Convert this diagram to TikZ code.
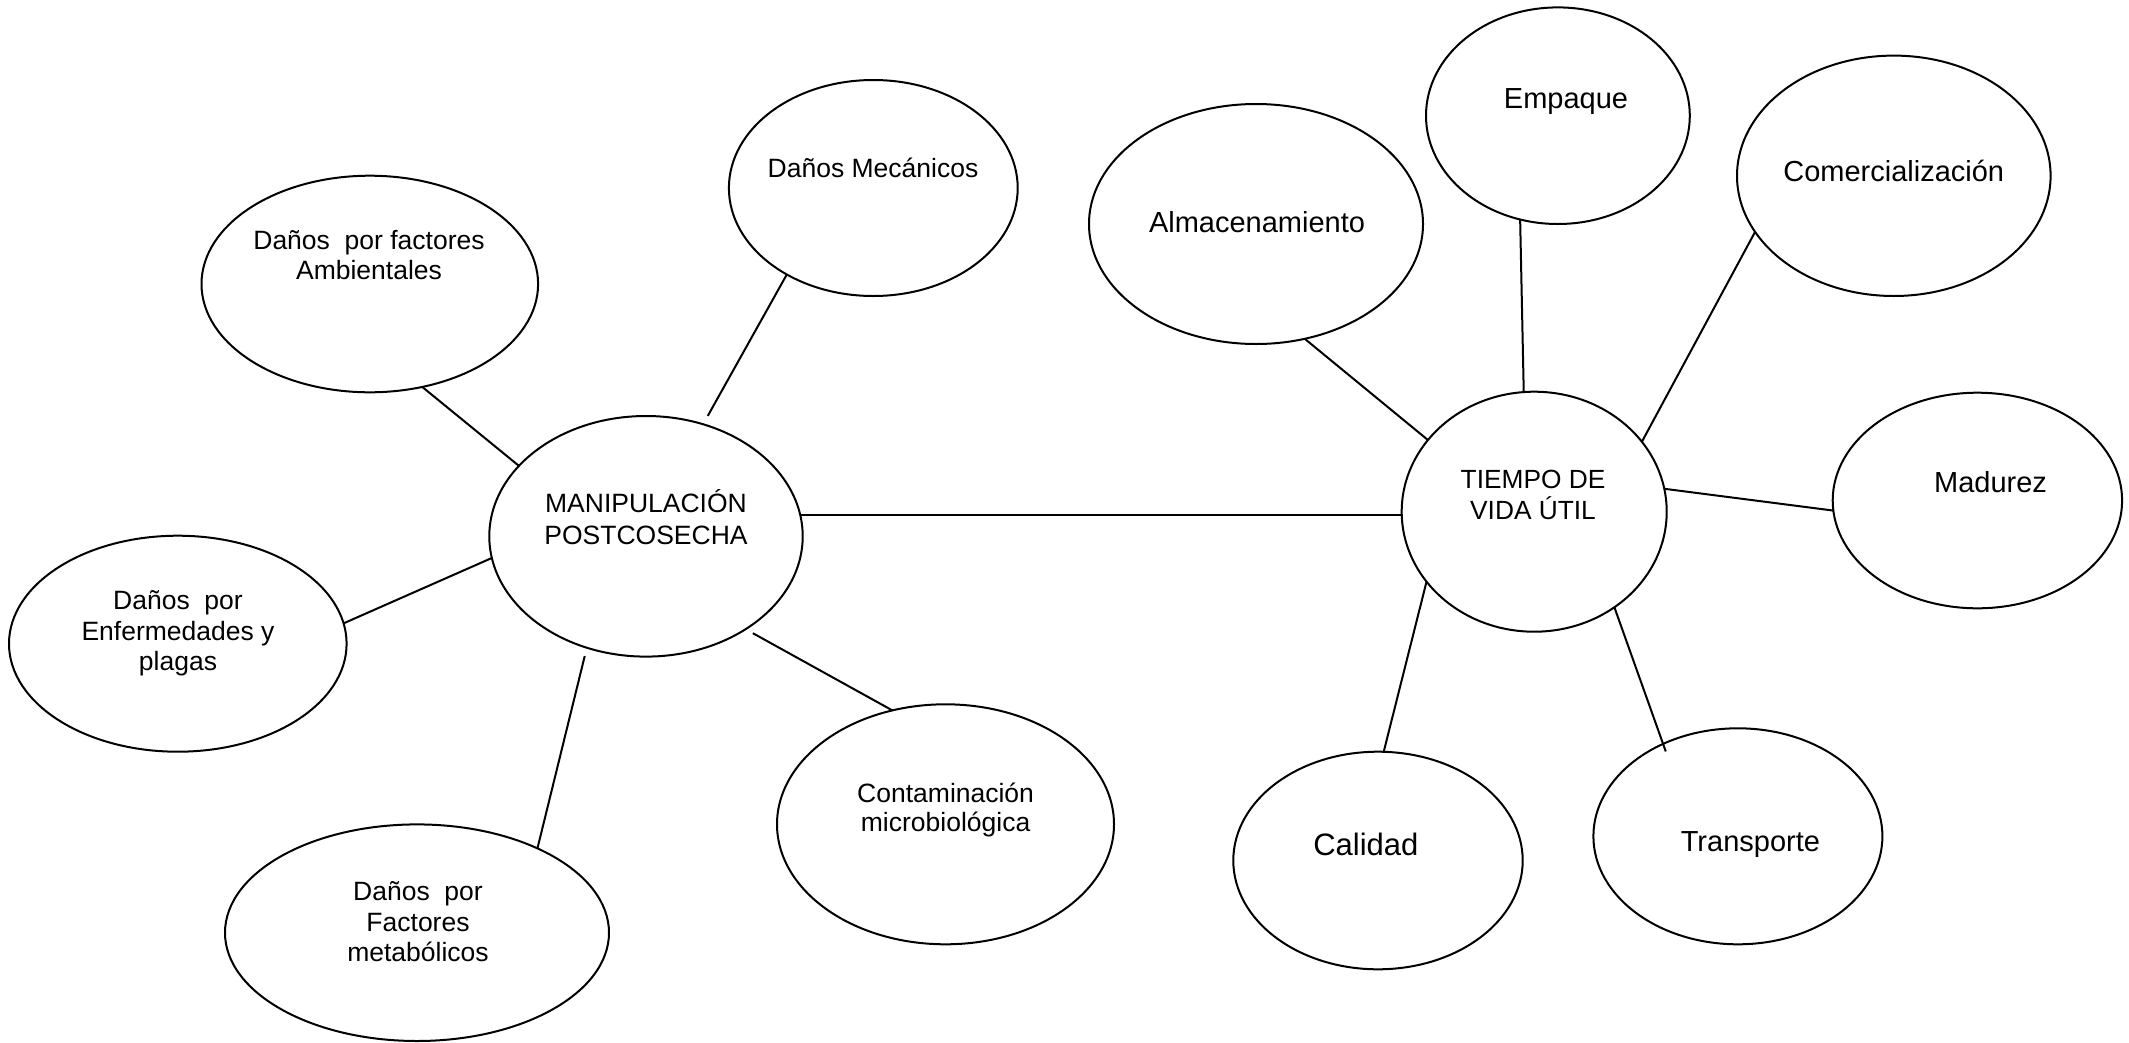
\documentclass[tikz,border=0pt]{standalone}
\usepackage{fontspec}
\setmainfont{Liberation Sans}
\usetikzlibrary{shapes.geometric}
\begin{document}
\begin{tikzpicture}[x=1pt,y=-1pt,
  bubble/.style={draw=black, line width=2pt, ellipse, inner sep=0pt, outer sep=0pt},
  conn/.style={draw=black, line width=2pt},
  lbl/.style={inner sep=0pt, align=center, text=black, font=\fontsize{26.5}{30.5}\selectfont},
  lblbig/.style={inner sep=0pt, align=center, text=black, font=\fontsize{29}{33}\selectfont},
]
\fill[white] (0,0) rectangle (2129,1042);
\useasboundingbox (0,0) rectangle (2129,1042);

% ellipses
\node[bubble, minimum width=336.6pt, minimum height=216.6pt] (amb) at (369.8,284) {};
\node[bubble, minimum width=288.8pt, minimum height=216pt] (mec) at (873.3,188) {};
\node[bubble, minimum width=313.4pt, minimum height=240.6pt] (manip) at (646,536.3) {};
\node[bubble, minimum width=337.6pt, minimum height=216pt] (enf) at (177.8,643.7) {};
\node[bubble, minimum width=384pt, minimum height=216.6pt] (metab) at (417,932.7) {};
\node[bubble, minimum width=337pt, minimum height=240pt] (contam) at (945.5,824.3) {};
\node[bubble, minimum width=334pt, minimum height=240pt] (almacen) at (1256,224) {};
\node[bubble, minimum width=263.8pt, minimum height=216.6pt] (empaque) at (1557.9,115.7) {};
\node[bubble, minimum width=313.6pt, minimum height=240.4pt] (comercial) at (1893.8,175.8) {};
\node[bubble, minimum width=265pt, minimum height=240pt] (tiempo) at (1534.2,511.7) {};
\node[bubble, minimum width=289.4pt, minimum height=215.6pt] (madurez) at (1977.4,500.5) {};
\node[bubble, minimum width=289.4pt, minimum height=217.6pt] (calidad) at (1378,860.5) {};
\node[bubble, minimum width=289pt, minimum height=216pt] (transp) at (1737.9,836.3) {};

% labels
\node[lbl] (amb-t) at (369,255) {Daños\ \ por factores\\Ambientales};
\node[lbl] (mec-t) at (873,168) {Daños Mecánicos};
\node[lbl, font=\fontsize{26.5}{31.5}\selectfont] (manip-t) at (646,517) {MANIPULACIÓN\\POSTCOSECHA};
\node[lbl] (enf-t) at (178,633.5) {Daños\ \ por\\Enfermedades y\\plagas};
\node[lbl] (metab-t) at (418,922) {Daños\ \ por\\Factores\\metabólicos};
\node[lbl, font=\fontsize{26.5}{28.5}\selectfont] (contam-t) at (945.6,810) {Contaminación\\microbiológica};
\node[lblbig] (almacen-t) at (1257,222) {Almacenamiento};
\node[lblbig] (empaque-t) at (1566,101.6) {Empaque};
\node[lblbig] (comercial-t) at (1893.7,171) {Comercialización};
\node[lbl, font=\fontsize{26.3}{30.7}\selectfont] (tiempo-t) at (1533,495) {TIEMPO DE\\VIDA ÚTIL};
\node[lblbig] (madurez-t) at (1990.5,482) {Madurez};
\node[lbl, font=\fontsize{31}{35}\selectfont] (calidad-t) at (1365.8,844) {Calidad};
\node[lblbig] (transp-t) at (1750.4,845) {Transporte};

% connectors
\draw[conn] (amb.297.4) -- (manip.151.6);
\draw[conn, shorten >=9.6pt] (mec.225.2) -- (manip.63.8);
\draw[conn] (enf.7.2) -- (manip.188.5);
\draw[conn, shorten >=8.6pt] (metab.35.6) -- (manip.242.5);
\draw[conn, shorten <=8.3pt] (manip.317.6) -- (contam.115.8);
\draw[conn] (manip.8.8) -- (manip.8.8 -| tiempo.west);
\draw[conn] (almacen.293.7) -- (tiempo.146.7);
\draw[conn] (empaque.250.9) -- (tiempo.95.9);
\draw[conn] (comercial.202.4) -- (tiempo.33.6);
\draw[conn] (tiempo.10.1) -- (madurez.184.5);
\draw[conn] (tiempo.213.9) -- (calidad.87.2);
\draw[conn, shorten >=-8pt] (tiempo.310.9) -- (transp.129.1);
\end{tikzpicture}
\end{document}
